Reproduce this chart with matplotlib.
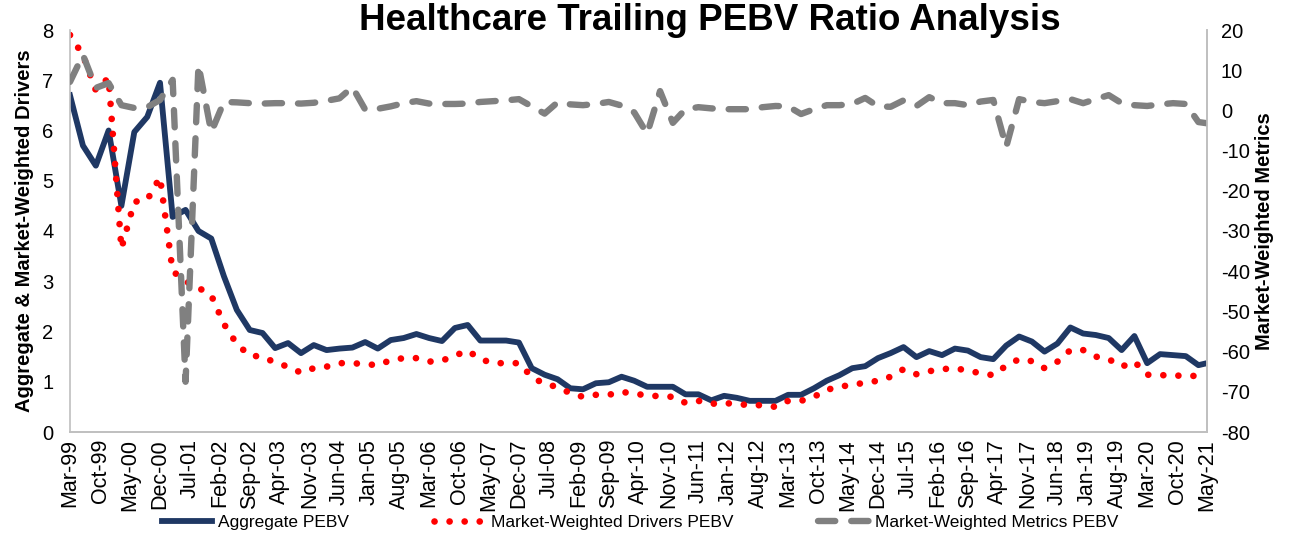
import pandas as pd
import matplotlib
matplotlib.use("Agg")
import matplotlib.pyplot as plt
import matplotlib.dates as mdates

plt.rcParams['font.family'] = ['Liberation Sans', 'DejaVu Sans']
plt.rcParams['axes.unicode_minus'] = False

# quarterly observations Mar-99 .. Mar-21, plus the last one in May-21
dates = list(pd.date_range('1999-03-01', periods=89, freq='3MS')) + [pd.Timestamp('2021-05-01')]

aggregate_pebv = [6.70, 5.70, 5.30, 6.00, 4.50, 5.97, 6.27, 6.95, 4.28, 4.42,
                  4.00, 3.85, 3.10, 2.43, 2.03, 1.97, 1.67, 1.77, 1.57, 1.73,
                  1.63, 1.66, 1.68, 1.79, 1.66, 1.83, 1.87, 1.95, 1.87, 1.81,
                  2.07, 2.13, 1.82, 1.82, 1.82, 1.78, 1.27, 1.14, 1.05, 0.87,
                  0.85, 0.97, 0.99, 1.10, 1.02, 0.90, 0.90, 0.90, 0.75, 0.75,
                  0.63, 0.72, 0.68, 0.62, 0.62, 0.62, 0.74, 0.74, 0.87, 1.02,
                  1.13, 1.27, 1.31, 1.47, 1.57, 1.69, 1.49, 1.61, 1.53, 1.66,
                  1.62, 1.49, 1.45, 1.72, 1.90, 1.80, 1.60, 1.76, 2.08, 1.96,
                  1.93, 1.87, 1.63, 1.91, 1.37, 1.55, 1.53, 1.51, 1.33, 1.37]

drivers_pebv = [7.90, 7.50, 6.80, 7.05, 3.65, 4.58, 4.62, 5.07, 3.20, 3.00,
                2.87, 2.72, 2.15, 1.75, 1.52, 1.50, 1.38, 1.30, 1.18, 1.27,
                1.30, 1.37, 1.37, 1.35, 1.33, 1.43, 1.47, 1.47, 1.40, 1.42,
                1.52, 1.62, 1.45, 1.37, 1.37, 1.37, 1.10, 0.95, 0.90, 0.77,
                0.70, 0.74, 0.74, 0.80, 0.76, 0.73, 0.71, 0.70, 0.58, 0.62,
                0.56, 0.58, 0.55, 0.54, 0.53, 0.50, 0.62, 0.62, 0.70, 0.84,
                0.90, 0.94, 0.98, 1.02, 1.10, 1.25, 1.15, 1.21, 1.25, 1.27,
                1.22, 1.17, 1.13, 1.32, 1.45, 1.41, 1.27, 1.40, 1.63, 1.63,
                1.50, 1.45, 1.30, 1.40, 1.14, 1.13, 1.13, 1.11, 1.12, 1.20]

metrics_pebv = [7.1, 13.8, 5.6, 6.8, 1.3, 0.6, 0.8, 2.6, 7.6, -67.5,
                11.3, -5.4, 2.1, 2.0, 1.8, 1.7, 1.8, 1.8, 1.7, 1.9,
                2.4, 3.0, 5.8, 0.2, 0.4, 1.0, 1.8, 2.3, 1.7, 1.6,
                1.6, 1.7, 2.1, 2.3, 2.5, 2.8, 1.0, -0.8, 2.0, 1.5,
                1.3, 1.6, 2.1, 1.2, -0.5, -5.8, 4.8, -3.1, 0.3, 0.8,
                0.5, 0.3, 0.3, 0.3, 0.8, 1.1, 1.0, -0.9, 0.3, 1.3,
                1.3, 1.6, 3.1, 1.0, 0.9, 2.5, 1.1, 3.3, 1.8, 1.8,
                1.3, 2.2, 2.6, -9.1, 2.8, 2.1, 1.8, 2.3, 2.8, 1.8,
                2.8, 3.8, 1.8, 1.3, 1.1, 1.5, 1.8, 1.6, -2.9, -3.2]

fig = plt.figure(figsize=(12.9, 5.46), dpi=100)
ax = fig.add_axes([70/1290, 1-432/546, (1207-70)/1290, (432-30)/546])
ax2 = ax.twinx()

l1, = ax.plot(dates, aggregate_pebv, color='#1F3864', lw=4.2, solid_joinstyle='round',
              label='Aggregate PEBV')
l2, = ax.plot(dates, drivers_pebv, color='#FF0000', lw=4.8, dash_capstyle='round',
              dashes=(0.01, 2.25), label='Market-Weighted Drivers PEBV')
l3, = ax2.plot(dates, metrics_pebv, color='#808080', lw=4.6, dash_capstyle='round',
               dashes=(2.7, 2.5), label='Market-Weighted Metrics PEBV')

ax.set_ylim(0, 8)
ax2.set_ylim(-80, 20)
ax.set_xlim(pd.Timestamp('1999-03-01'), pd.Timestamp('2021-05-01'))

ticks = pd.date_range('1999-03-01', '2021-05-01', freq='7MS')
ax.set_xticks(ticks)
ax.xaxis.set_major_formatter(mdates.DateFormatter('%b-%y'))
plt.setp(ax.get_xticklabels(), rotation=90, fontsize=15.5)

for a in (ax, ax2):
    for s in a.spines.values():
        s.set_color('#BFBFBF')
        s.set_linewidth(1.2)
    a.spines['top'].set_visible(False)
    a.tick_params(length=0, labelsize=14.5, colors='black')
ax2.spines['left'].set_visible(False)
ax.tick_params(axis='y', pad=12)
ax.tick_params(axis='x', labelsize=15.5, pad=5)
ax2.tick_params(axis='y', pad=10)
ax.set_yticks(range(0, 9))
ax2.set_yticks(range(-80, 21, 10))

ax.set_ylabel('Aggregate & Market-Weighted Drivers', fontsize=14.5, fontweight='bold', labelpad=6)
ax2.set_ylabel('Market-Weighted Metrics', fontsize=14.5, fontweight='bold', labelpad=4)

fig.text(710/1290, 1-21/546, 'Healthcare Trailing PEBV Ratio Analysis', ha='center', va='center',
         fontsize=26.5, fontweight='bold')

fig.legend(handles=[l1, l2, l3], loc='center', bbox_to_anchor=(0.496, 1-522/546), ncol=3,
           frameon=False, fontsize=12.5, handlelength=2.9, columnspacing=4.9, handletextpad=0.35)

fig.savefig('out.png', dpi=100)
